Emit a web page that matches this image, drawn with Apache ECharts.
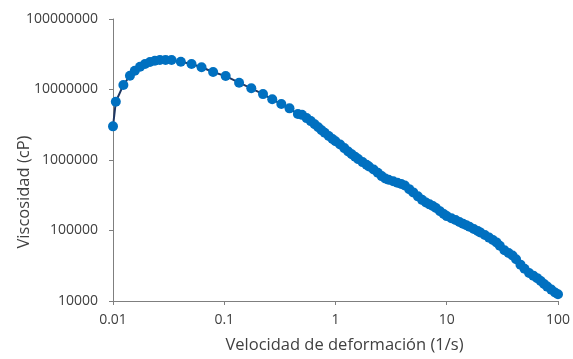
<!DOCTYPE html>
<html>
<head>
<meta charset="utf-8">
<script src="https://cdn.jsdelivr.net/npm/echarts@6/dist/echarts.min.js"></script>
<style>
  html, body { margin: 0; padding: 0; background: #fff; }
  #chart { width: 573px; height: 359px; }
</style>
</head>
<body>
<div id="chart"></div>
<script>
// velocidad de deformación (1/s)
const shearRate = [
  0.01, 0.0106, 0.0124, 0.0142, 0.0157, 0.0175, 0.0194, 0.0215, 0.0238, 0.0264,
  0.0297, 0.0336, 0.0407, 0.0508, 0.0625, 0.0794, 0.103, 0.136, 0.175, 0.223,
  0.27, 0.326, 0.386, 0.459,
  0.5, 0.55, 0.6, 0.65, 0.7, 0.75, 0.8, 0.87, 0.94, 1.0,
  1.1, 1.2, 1.3, 1.4, 1.5, 1.6, 1.75, 1.9, 2.0, 2.2,
  2.4, 2.6, 2.8, 3.0, 3.3, 3.6, 3.9, 4.2, 4.6, 5.0,
  5.5, 6.0, 6.5, 7.0, 7.5, 8.0, 8.7, 9.4, 10, 11,
  12, 13, 14, 15, 16, 17.5, 19, 20, 22, 24,
  26, 28, 30, 33, 36, 39, 42, 46, 50, 55,
  60, 65, 70, 75, 80, 87, 94, 100
];
// viscosidad (cP)
const viscosity = [
  3.0e6, 6.7e6, 1.16e7, 1.57e7, 1.85e7, 2.1e7, 2.3e7, 2.45e7, 2.56e7, 2.62e7,
  2.63e7, 2.62e7, 2.48e7, 2.3e7, 2.07e7, 1.77e7, 1.55e7, 1.25e7, 1.04e7, 8.6e6,
  7.27e6, 6.22e6, 5.4e6, 4.49e6,
  4.37e6, 3.93e6, 3.56e6, 3.22e6, 2.92e6, 2.65e6, 2.44e6, 2.19e6, 1.99e6, 1.85e6,
  1.66e6, 1.475e6, 1.32e6, 1.21e6, 1.114e6, 1.03e6, 9.33e5, 8.58e5, 8.11e5, 7.33e5,
  6.58e5, 5.91e5, 5.45e5, 5.26e5, 4.99e5, 4.76e5, 4.57e5, 4.36e5, 3.86e5, 3.47e5,
  3.05e5, 2.72e5, 2.5e5, 2.35e5, 2.23e5, 2.08e5, 1.88e5, 1.71e5, 1.6e5, 1.49e5,
  1.41e5, 1.32e5, 1.25e5, 1.19e5, 1.13e5, 1.05e5, 9.84e4, 9.4e4, 8.61e4, 7.93e4,
  7.33e4, 6.78e4, 6.09e4, 5.26e4, 4.8e4, 4.41e4, 3.92e4, 3.28e4, 2.87e4, 2.5e4,
  2.29e4, 2.11e4, 1.92e4, 1.74e4, 1.6e4, 1.45e4, 1.32e4, 1.245e4
];

const textColor = "#404040";
const axisColor = "#7f7f7f";
const font = "Open Sans";

const fmt = (v) => String(Number(v.toPrecision(6)));

const chart = echarts.init(document.getElementById("chart"), null, { renderer: "canvas" });

chart.setOption({
  animation: false,
  grid: { left: 113, right: 14, top: 19, bottom: 58 },
  xAxis: {
    type: "log",
    logBase: 10,
    min: 0.01,
    max: 100,
    name: "Velocidad de deformación (1/s)",
    nameLocation: "middle",
    nameGap: 36,
    nameMoveOverlap: false,
    nameTextStyle: { fontFamily: font, fontSize: 16.5, color: textColor, padding: [0, 0, 0, 18] },
    axisLine: { lineStyle: { color: axisColor, width: 1 } },
    axisTick: { show: true, length: 4, lineStyle: { color: axisColor } },
    minorTick: { show: false },
    splitLine: { show: false },
    axisLabel: { fontFamily: font, fontSize: 14, color: textColor, margin: 12, formatter: fmt }
  },
  yAxis: {
    type: "log",
    logBase: 10,
    min: 10000,
    max: 100000000,
    name: "Viscosidad (cP)",
    nameLocation: "middle",
    nameGap: 80,
    nameMoveOverlap: false,
    nameTextStyle: { fontFamily: font, fontSize: 16.5, color: textColor, padding: [0, 64, 0, 0] },
    axisLine: { show: true, lineStyle: { color: axisColor, width: 1 } },
    axisTick: { show: true, length: 4, lineStyle: { color: axisColor } },
    splitLine: { show: false },
    axisLabel: { fontFamily: font, fontSize: 14, color: textColor, margin: 15, formatter: fmt }
  },
  series: [
    {
      type: "line",
      data: shearRate.map((x, i) => [x, viscosity[i]]),
      symbol: "circle",
      symbolSize: 10,
      lineStyle: { color: "#1f3864", width: 2 },
      itemStyle: { color: "#0070c0" }
    }
  ]
});
</script>
</body>
</html>
